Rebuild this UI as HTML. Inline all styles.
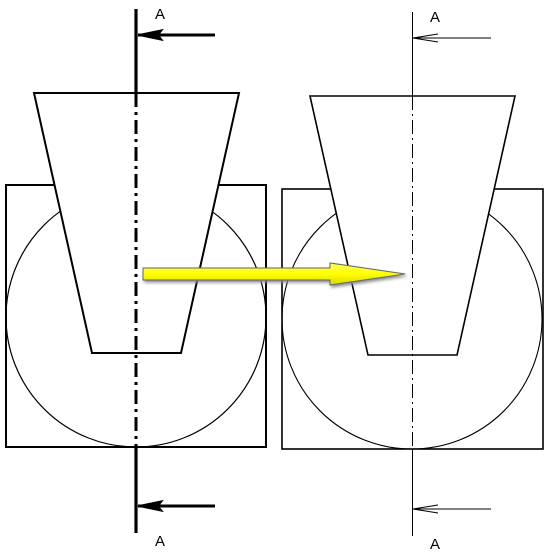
<!DOCTYPE html>
<html><head><meta charset="utf-8"><style>
html,body{margin:0;padding:0;background:#fff;}
svg{display:block;}
text{font-family:"Liberation Sans",sans-serif;font-size:15px;fill:#000;}
</style></head><body>
<svg width="548" height="553" viewBox="0 0 548 553">
<defs>
<linearGradient id="yg" x1="0" y1="0" x2="0" y2="1">
<stop offset="0" stop-color="#ffff60"/><stop offset="0.5" stop-color="#ffff00"/><stop offset="1" stop-color="#d8d800"/>
</linearGradient>
<filter id="sh" x="-10%" y="-50%" width="120%" height="200%"><feDropShadow dx="1.5" dy="2" stdDeviation="1.5" flood-color="#888"/></filter>
</defs>
<g>
<rect x="6" y="185" width="260" height="262" fill="none" stroke="#000" stroke-width="2"/>
<circle cx="136" cy="317" r="130" fill="none" stroke="#000" stroke-width="1.2"/>
<polygon points="34,93 239,93 181,353 92,353" fill="#fff" stroke="#000" stroke-width="2"/>
<line x1="136" y1="9" x2="136" y2="93" stroke="#000" stroke-width="3.2"/>
<line x1="136" y1="93" x2="136" y2="447" stroke="#000" stroke-width="3" stroke-dasharray="14,5,3,5"/>
<line x1="136" y1="447" x2="136" y2="533" stroke="#000" stroke-width="3.2"/>
<line x1="138" y1="35" x2="215" y2="35" stroke="#000" stroke-width="3"/>
<polygon points="138,35 162,30 158,35 162,40" fill="#000" stroke="#000" stroke-width="1.5"/>
<line x1="138" y1="506" x2="215" y2="506" stroke="#000" stroke-width="3"/>
<polygon points="138,506 162,501 158,506 162,511" fill="#000" stroke="#000" stroke-width="1.5"/>
<text x="155" y="19">A</text>
<text x="155" y="546">A</text>
</g>
<g>
<rect x="282" y="189" width="261" height="260" fill="none" stroke="#000" stroke-width="1.6"/>
<circle cx="412" cy="319" r="130" fill="none" stroke="#000" stroke-width="1.1"/>
<polygon points="310,96 515,96 457,355 368,355" fill="#fff" stroke="#000" stroke-width="1.6"/>
<line x1="412.5" y1="12" x2="412.5" y2="96" stroke="#000" stroke-width="1"/>
<line x1="412.5" y1="96" x2="412.5" y2="449" stroke="#000" stroke-width="1" stroke-dasharray="14,4,2,4"/>
<line x1="412.5" y1="449" x2="412.5" y2="536" stroke="#000" stroke-width="1"/>
<line x1="413" y1="38" x2="491" y2="38" stroke="#000" stroke-width="1"/>
<polyline points="438,34 413,38 438,42" fill="none" stroke="#000" stroke-width="1"/>
<line x1="413" y1="509" x2="491" y2="509" stroke="#000" stroke-width="1"/>
<polyline points="438,505 413,509 438,513" fill="none" stroke="#000" stroke-width="1"/>
<text x="430" y="22">A</text>
<text x="430" y="549">A</text>
</g>
<polygon points="143,268 330,268 330,263 405,274 330,285 330,280 143,280" fill="url(#yg)" stroke="#666" stroke-width="1" filter="url(#sh)"/>
</svg>
</body></html>
